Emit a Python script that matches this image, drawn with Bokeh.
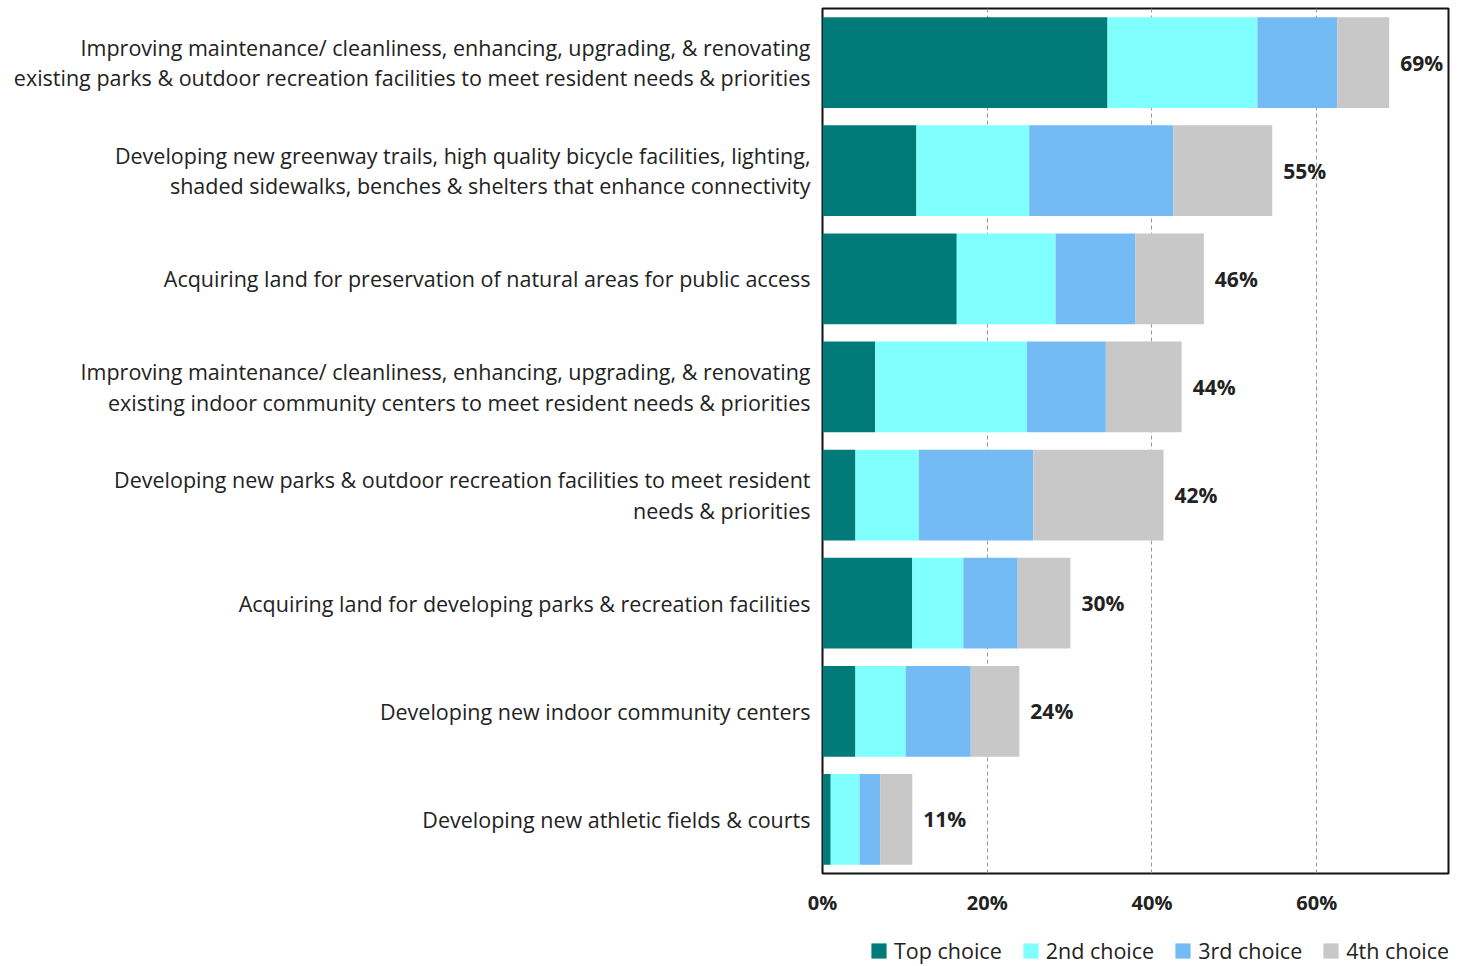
from bokeh.plotting import figure
from bokeh.layouts import column
from bokeh.models import FactorRange, Range1d, FixedTicker, Legend, LegendItem, ColumnDataSource
from bokeh.core.properties import value
from bokeh.embed import file_html
from bokeh.resources import INLINE

categories = [
    "Improving maintenance/ cleanliness, enhancing, upgrading, & renovating\nexisting parks & outdoor recreation facilities to meet resident needs & priorities",
    "Developing new greenway trails, high quality bicycle facilities, lighting,\nshaded sidewalks, benches & shelters that enhance connectivity",
    "Acquiring land for preservation of natural areas for public access",
    "Improving maintenance/ cleanliness, enhancing, upgrading, & renovating\nexisting indoor community centers to meet resident needs & priorities",
    "Developing new parks & outdoor recreation facilities to meet resident\nneeds & priorities",
    "Acquiring land for developing parks & recreation facilities",
    "Developing new indoor community centers",
    "Developing new athletic fields & courts",
]
top_choice = [34.6, 11.4, 16.3, 6.4, 4.0, 10.9, 4.0, 1.0]
second_choice = [18.2, 13.7, 12.0, 18.4, 7.7, 6.2, 6.1, 3.5]
third_choice = [9.7, 17.5, 9.7, 9.6, 13.9, 6.6, 7.9, 2.5]
fourth_choice = [6.3, 12.0, 8.3, 9.2, 15.8, 6.4, 5.9, 3.9]
total_labels = ["69%", "55%", "46%", "44%", "42%", "30%", "24%", "11%"]
series_names = ["Top choice", "2nd choice", "3rd choice", "4th choice"]
x_ticks = [0, 20, 40, 60]
x_tick_labels = ["0%", "20%", "40%", "60%"]

colors = ["#007B7A", "#80FFFF", "#74BBF6", "#C8C8C8"]
keys = ["s0", "s1", "s2", "s3"]
FONT = "Open Sans"
TXT = "#222222"

totals = [a + b + c + d for a, b, c, d in zip(top_choice, second_choice, third_choice, fourth_choice)]

src = ColumnDataSource(dict(cat=categories, s0=top_choice, s1=second_choice, s2=third_choice, s3=fourth_choice,
                            tot=totals, lab=total_labels))

W = 1460
H1 = 925
LEFT = 822
RIGHT = W - 1448
p = figure(width=W, height=H1, output_backend="svg", toolbar_location=None,
           y_range=FactorRange(factors=list(reversed(categories))), x_range=Range1d(0, 76),
           min_border_left=LEFT, min_border_top=8, min_border_right=RIGHT, min_border_bottom=H1 - 873)

renderers = p.hbar_stack(keys, y="cat", height=0.84, color=colors, line_color=None, source=src)

p.text(x="tot", y="cat", text="lab", source=src, x_offset=11, text_align="left", text_baseline="middle",
       text_font=value(FONT), text_font_size="21px", text_font_style="bold", text_color=TXT)

p.outline_line_color = "#111111"
p.outline_line_width = 2
p.outline_line_alpha = 1

p.xaxis.ticker = FixedTicker(ticks=x_ticks)
p.xaxis.major_label_overrides = {t: l for t, l in zip(x_ticks, x_tick_labels)}
p.xaxis.axis_line_color = None
p.xaxis.major_tick_line_color = None
p.xaxis.minor_tick_line_color = None
p.xaxis.major_label_standoff = 9
p.xaxis.major_label_text_font = FONT
p.xaxis.major_label_text_font_size = "20px"
p.xaxis.major_label_text_font_style = "bold"
p.xaxis.major_label_text_color = TXT

p.yaxis.axis_line_color = None
p.yaxis.major_tick_line_color = None
p.yaxis.minor_tick_line_color = None
p.yaxis.major_label_standoff = 6
p.yaxis.major_label_text_font = FONT
p.yaxis.major_label_text_font_size = "21.5px"
p.yaxis.major_label_text_color = TXT
p.yaxis.major_label_text_line_height = 1.05

p.xgrid.grid_line_color = "#999999"
p.xgrid.grid_line_dash = "4 3"
p.xgrid.grid_line_width = 1
p.ygrid.grid_line_color = None

# legend strip below the chart (same borders so the frames stay aligned)
H2 = 40
lg = figure(width=W, height=H2, output_backend="svg", toolbar_location=None,
            x_range=Range1d(0, 1), y_range=Range1d(0, 1),
            min_border_left=LEFT, min_border_right=RIGHT, min_border_top=0, min_border_bottom=0)
lg.axis.visible = False
lg.grid.visible = False
lg.outline_line_color = None
lg.background_fill_alpha = 0
lg.border_fill_alpha = 0
dummy_src = ColumnDataSource(dict(l=[2.0], r=[3.0], b=[2.0], t=[3.0]))
dummies = [lg.quad(left="l", right="r", bottom="b", top="t", source=dummy_src, color=c, line_color=None)
           for c in colors]
legend = Legend(items=[LegendItem(label=n, renderers=[r]) for n, r in zip(series_names, dummies)],
                orientation="horizontal", location=(47, 0), border_line_color=None,
                background_fill_alpha=0,
                label_text_font=FONT, label_text_font_size="21.5px", label_text_color=TXT,
                glyph_width=19, glyph_height=19, spacing=19, label_standoff=6, padding=0, margin=0)
lg.add_layout(legend)

layout = column(p, lg, spacing=0)
open("out.html", "w").write(file_html(layout, INLINE))
